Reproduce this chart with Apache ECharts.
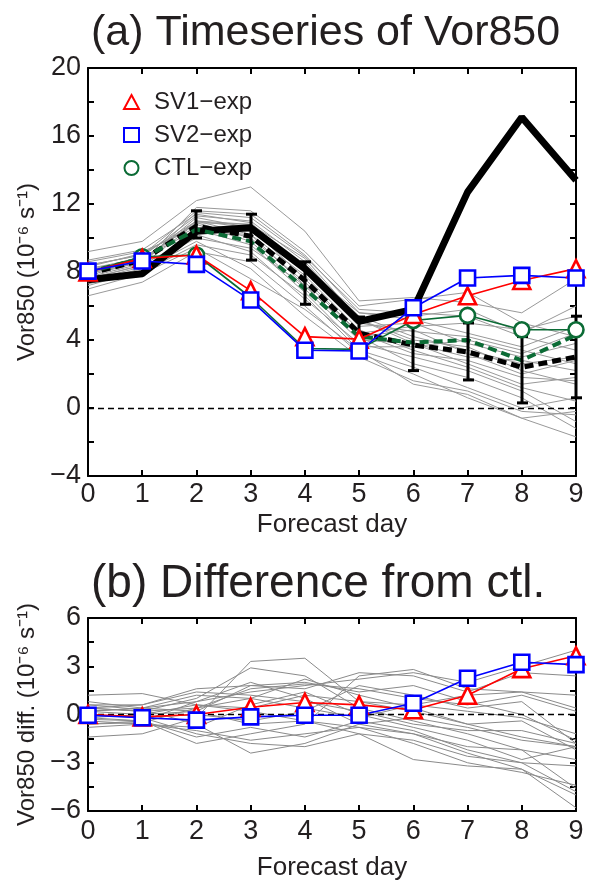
<!DOCTYPE html>
<html>
<head>
<meta charset="utf-8">
<script src="https://cdn.jsdelivr.net/npm/echarts@6/dist/echarts.min.js"></script>
<style>
  html, body { margin: 0; padding: 0; background: #fff; }
  #chart { width: 596px; height: 882px; }
</style>
</head>
<body>
<div id="chart"></div>
<script>
// forecast days (x)
const days = [0, 1, 2, 3, 4, 5, 6, 7, 8, 9];

// (a) timeseries
const analysis = [7.55, 7.9, 10.4, 10.6, 8.2, 5.1, 5.8, 12.7, 17.1, 13.4];
const ensMean = [7.9, 8.7, 10.7, 10.1, 7.5, 4.4, 3.7, 3.3, 2.4, 3.0];
const ctlMean = [8.0, 8.8, 10.5, 9.8, 7.0, 4.2, 3.85, 4.0, 2.8, 4.3];
const sv1 = [8.0, 8.8, 9.0, 6.9, 4.2, 4.05, 5.5, 6.6, 7.5, 8.2];
const sv2 = [8.05, 8.65, 8.45, 6.35, 3.4, 3.35, 5.9, 7.65, 7.8, 7.65];
const ctl = [8.0, 8.9, 9.0, 6.5, 3.5, 3.45, 5.15, 5.45, 4.6, 4.6];

// error bars (days 2..9)
const errDays = [2, 3, 4, 5, 6, 7, 8, 9];
const errHigh = [11.6, 11.4, 8.6, 5.35, 5.2, 5.0, 4.2, 5.4];
const errLow = [10.0, 8.7, 6.1, 3.6, 2.2, 1.65, 0.3, 0.6];

// ensemble members (gray)
const members = [
  [9.2, 9.8, 12.2, 13.0, 10.4, 6.3, 6.5, 6.2, 5.6, 7.6],
  [6.6, 7.4, 9.2, 8.6, 6.0, 3.2, 2.0, 0.6, -0.6, -1.7],
  [8.4, 9.0, 11.6, 11.4, 9.0, 5.6, 5.2, 4.4, 3.6, 4.8],
  [7.4, 8.2, 10.4, 10.2, 7.8, 4.6, 3.4, 2.4, 1.2, 0.4],
  [7.9, 8.7, 11.0, 10.8, 8.2, 5.0, 4.5, 4.2, 3.4, 2.6],
  [8.1, 8.9, 11.3, 11.0, 8.6, 5.2, 4.0, 3.6, 2.2, 1.4],
  [7.6, 8.4, 10.2, 9.2, 6.4, 3.8, 3.0, 2.2, 1.0, -0.8],
  [7.2, 8.1, 9.8, 8.2, 5.4, 3.0, 1.6, 1.0, -0.2, -0.4],
  [8.0, 8.6, 11.0, 10.6, 7.6, 4.4, 4.8, 5.0, 4.6, 5.4],
  [8.3, 9.1, 10.8, 9.8, 7.0, 4.0, 3.8, 3.0, 2.8, 2.2],
  [7.7, 8.5, 11.5, 11.2, 8.9, 5.8, 5.6, 5.4, 4.2, 3.4],
  [7.5, 8.3, 10.0, 9.4, 7.2, 4.2, 2.6, 1.8, 0.6, -1.2],
  [8.6, 9.2, 10.6, 10.4, 8.0, 4.8, 5.0, 3.8, 3.0, 3.8],
  [7.8, 8.6, 11.8, 11.6, 9.2, 6.0, 6.4, 6.8, 5.0, 4.2],
  [7.3, 8.0, 9.6, 9.0, 6.6, 3.4, 2.4, 1.2, 0.0, 0.6],
  [8.2, 8.8, 10.9, 10.0, 7.4, 4.4, 3.2, 2.8, 1.8, 1.6],
  [7.9, 8.6, 11.2, 10.6, 8.4, 5.4, 4.2, 3.4, 2.6, 3.0],
  [8.0, 8.8, 10.5, 9.6, 6.8, 3.6, 3.6, 4.0, 3.2, 4.4],
  [7.6, 8.4, 10.9, 10.8, 8.8, 5.2, 3.8, 2.6, 1.4, 1.8],
  [8.4, 9.0, 11.0, 10.2, 7.2, 4.2, 4.6, 3.2, 2.0, 2.8],
  [7.0, 7.9, 9.4, 7.6, 5.8, 3.4, 1.4, 0.8, -0.6, -0.2],
  [8.7, 9.3, 11.4, 10.9, 8.2, 5.6, 5.4, 5.8, 4.4, 6.0]
];

// (b) difference from ctl
const sv1Diff = [0.0, -0.15, 0.0, 0.45, 0.75, 0.6, 0.3, 1.2, 2.85, 3.65];
const sv2Diff = [-0.05, -0.2, -0.35, -0.15, -0.05, -0.05, 0.7, 2.25, 3.25, 3.1];
const memberDiffs = [
  [1.2, 1.3, 0.6, 0.2, -0.4, -0.8, -1.2, -2.4, -3.4, -5.8],
  [-1.4, -1.2, -0.2, 3.3, 3.5, 0.8, 0.2, -0.6, -1.4, -2.0],
  [0.4, 0.2, 1.0, 2.9, 2.4, 0.4, -0.4, -1.2, -2.2, -4.6],
  [-0.3, -0.4, -1.8, -1.2, -0.6, 2.4, 2.8, 1.6, 1.4, 1.2],
  [0.2, 0.4, 0.8, 1.4, 1.8, 2.2, 2.6, 2.0, 3.0, 4.0],
  [0.6, 0.3, -0.6, -2.4, -1.8, -0.6, -0.2, -0.8, -1.6, -2.0],
  [-0.6, -0.5, 0.4, 1.6, 1.9, 1.6, 1.0, 0.6, 1.2, 0.2],
  [0.0, -0.2, -1.2, -1.8, -2.0, -1.2, -2.8, -3.2, -3.4, -5.0],
  [0.4, 0.6, 1.4, 1.2, 0.8, 0.2, -0.6, -1.0, -1.0, -1.8],
  [-0.2, 0.0, 0.2, -0.6, -0.4, -1.2, -1.6, -2.6, -3.0, -4.8],
  [0.8, 0.4, 0.2, 1.8, 2.0, 1.4, 1.8, 0.8, 0.0, -1.6],
  [-0.4, -0.6, -1.0, -1.6, -1.2, -0.8, -1.8, -3.0, -3.6, -4.4],
  [0.2, 0.0, 0.6, 0.4, 1.2, 0.8, 0.6, 1.2, 1.4, 0.4],
  [-0.8, -0.6, -0.8, 0.6, 1.4, 0.0, -0.8, -1.6, -2.8, -2.0],
  [0.6, 0.6, 1.6, 1.8, 1.6, 2.6, 2.4, 1.4, 2.6, 2.4],
  [-0.2, -0.4, -1.4, -0.8, -1.4, -0.4, -1.0, -2.2, -3.0, -3.2],
  [0.4, 0.2, 0.4, 1.0, 0.4, -0.2, 0.6, 0.2, -0.2, -1.2],
  [0.0, -0.2, 0.0, -0.4, 0.2, 1.8, 1.2, 0.4, 0.8, -1.8],
  [-0.6, -0.4, 0.8, 2.0, 1.0, -0.6, -1.2, -2.0, -2.2, -2.8],
  [0.2, 0.4, 1.2, 1.0, 2.2, 1.2, 0.4, -0.6, -0.4, -2.2]
];

const TXT = '#231f20';
const FONT = 'Liberation Sans, Arial, sans-serif';
const RED = '#ff0000';
const BLUE = '#0000ff';
const GREEN = '#0b6b35';
const GRAY = '#999999';
const GRAY_B = '#8a8a8a';

function pairs(ys) {
  return days.map(function (d, i) { return [d, ys[i]]; });
}

// 负号用 U+2212，只标注 labelStep 的倍数
function tickLabel(labelStep) {
  return function (v) {
    if (Math.abs(v / labelStep - Math.round(v / labelStep)) > 1e-6) {
      return '';
    }
    return String(v).replace('-', '\u2212');
  };
}

const AXIS_LINE = { show: true, onZero: false, lineStyle: { color: '#000', width: 2 } };
const AXIS_TICK = { show: true, inside: true, length: 6, lineStyle: { color: '#000', width: 2 } };

// x轴（下 + 上）
function xAxes(gridIndex, labelMargin, nameGap) {
  return [{
    gridIndex: gridIndex, type: 'value', min: 0, max: 9, interval: 1, position: 'bottom',
    axisLine: AXIS_LINE, axisTick: AXIS_TICK,
    axisLabel: { color: TXT, fontSize: 27, fontFamily: FONT, margin: labelMargin },
    splitLine: { show: false },
    name: 'Forecast day', nameLocation: 'middle', nameGap: nameGap,
    nameTextStyle: { color: TXT, fontSize: 26, fontFamily: FONT }
  }, {
    gridIndex: gridIndex, type: 'value', min: 0, max: 9, interval: 1, position: 'top',
    axisLine: AXIS_LINE, axisTick: AXIS_TICK,
    axisLabel: { show: false },
    splitLine: { show: false }
  }];
}

// y轴（左 + 右）
function yAxes(gridIndex, min, max, interval, labelStep, name, nameGap) {
  return [{
    gridIndex: gridIndex, type: 'value', min: min, max: max, interval: interval, position: 'left',
    axisLine: AXIS_LINE, axisTick: AXIS_TICK,
    axisLabel: { color: TXT, fontSize: 27, fontFamily: FONT, margin: 7, formatter: tickLabel(labelStep) },
    splitLine: { show: false },
    name: name, nameLocation: 'middle', nameGap: nameGap,
    nameTextStyle: { color: TXT, fontSize: 24, fontFamily: FONT }
  }, {
    gridIndex: gridIndex, type: 'value', min: min, max: max, interval: interval, position: 'right',
    axisLine: AXIS_LINE, axisTick: AXIS_TICK,
    axisLabel: { show: false },
    splitLine: { show: false }
  }];
}

function grayLines(list, xi, yi, color) {
  return list.map(function (m) {
    return {
      type: 'line', xAxisIndex: xi, yAxisIndex: yi, data: pairs(m),
      symbol: 'none', silent: true, z: 1,
      lineStyle: { color: color, width: 1 }
    };
  });
}

function markerLine(name, ys, color, symbol, size, xi, yi) {
  return {
    name: name, type: 'line', xAxisIndex: xi, yAxisIndex: yi, data: pairs(ys),
    symbol: symbol, symbolSize: size, showAllSymbol: true, z: 6,
    lineStyle: { color: color, width: 1.6 },
    itemStyle: { color: '#fff', borderColor: color, borderWidth: 2.6 }
  };
}

function zeroLine(xi, yi) {
  return {
    type: 'line', xAxisIndex: xi, yAxisIndex: yi, data: [], symbol: 'none', z: 2,
    markLine: {
      silent: true, symbol: 'none', label: { show: false },
      lineStyle: { color: '#000', width: 1.4, type: [6, 4] },
      data: [{ yAxis: 0 }]
    }
  };
}

const errData = errDays.map(function (d, i) { return [d, errLow[i], errHigh[i]]; });

// 误差棒
function renderErrorBar(params, api) {
  const lo = api.coord([api.value(0), api.value(1)]);
  const hi = api.coord([api.value(0), api.value(2)]);
  const x = Math.round(hi[0]);
  const w = 5;
  const t = 3;
  const st = { fill: '#000', stroke: null };
  return {
    type: 'group',
    children: [
      { type: 'rect', shape: { x: x - 1.5, y: hi[1], width: t, height: lo[1] - hi[1] }, style: st },
      { type: 'rect', shape: { x: x - w, y: hi[1] - 1.5, width: 2 * w + 1, height: t }, style: st },
      { type: 'rect', shape: { x: x - w, y: lo[1] - 1.5, width: 2 * w + 1, height: t }, style: st }
    ]
  };
}

const series = []
  .concat(grayLines(members, 0, 0, GRAY))
  .concat([zeroLine(0, 0), {
    type: 'line', xAxisIndex: 0, yAxisIndex: 0, data: pairs(analysis), symbol: 'none', z: 3,
    lineStyle: { color: '#000', width: 7 }
  }, {
    type: 'line', xAxisIndex: 0, yAxisIndex: 0, data: pairs(ensMean), symbol: 'none', z: 3,
    lineStyle: { color: '#000', width: 5, type: [9, 5] }
  }, {
    type: 'line', xAxisIndex: 0, yAxisIndex: 0, data: pairs(ctlMean), symbol: 'none', z: 3,
    lineStyle: { color: GREEN, width: 4, type: [9, 5] }
  }, {
    type: 'custom', xAxisIndex: 0, yAxisIndex: 0, data: errData, z: 5,
    renderItem: renderErrorBar
  }])
  .concat([
    markerLine('CTL\u2212exp', ctl, GREEN, 'circle', 15, 0, 0),
    markerLine('SV1\u2212exp', sv1, RED, 'triangle', 17, 0, 0),
    markerLine('SV2\u2212exp', sv2, BLUE, 'rect', 15, 0, 0)
  ])
  .concat(grayLines(memberDiffs, 2, 2, GRAY_B))
  .concat([zeroLine(2, 2)])
  .concat([
    markerLine('SV1\u2212exp ', sv1Diff, RED, 'triangle', 17, 2, 2),
    markerLine('SV2\u2212exp ', sv2Diff, BLUE, 'rect', 15, 2, 2)
  ]);

const option = {
  animation: false,
  backgroundColor: '#fff',
  textStyle: { fontFamily: FONT },
  title: [{
    text: '(a) Timeseries of Vor850', left: 86, top: 7,
    textStyle: { color: TXT, fontSize: 43, fontWeight: 'normal', fontFamily: FONT }
  }, {
    text: '(b) Difference from ctl.', left: 86, top: 556,
    textStyle: { color: TXT, fontSize: 46, fontWeight: 'normal', fontFamily: FONT }
  }],
  legend: {
    left: 118, top: 85, orient: 'vertical', itemGap: 9,
    itemWidth: 15, itemHeight: 14,
    textStyle: { color: TXT, fontSize: 24, fontFamily: FONT, padding: [0, 0, 0, 10] },
    data: [
      { name: 'SV1\u2212exp', icon: 'triangle' },
      { name: 'SV2\u2212exp', icon: 'rect' },
      { name: 'CTL\u2212exp', icon: 'circle' }
    ]
  },
  grid: [
    { left: 88, right: 20, top: 68, height: 408 },
    { left: 88, right: 20, top: 618, height: 202 }
  ],
  xAxis: xAxes(0, 5, 36).concat(xAxes(1, 7, 44)),
  yAxis: yAxes(0, -4, 20, 2, 4, 'Vor850 (10\u207B\u2076 s\u207B\u00B9)', 40)
    .concat(yAxes(1, -6, 6, 1.5, 3, 'Vor850 diff. (10\u207B\u2076 s\u207B\u00B9)', 40)),
  series: series
};

const chart = echarts.init(document.getElementById('chart'));
chart.setOption(option);
</script>
</body>
</html>
